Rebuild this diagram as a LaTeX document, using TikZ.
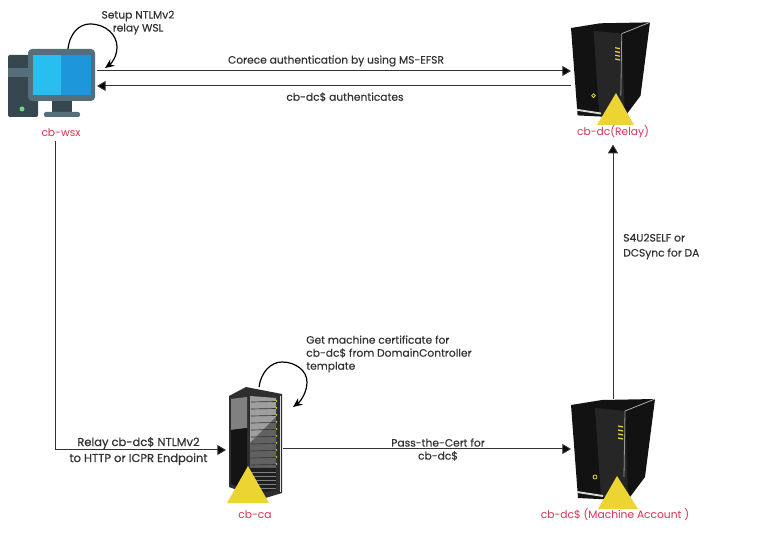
\documentclass[tikz,border=0pt]{standalone}
\usepackage{xcolor}
\usepackage{fontspec}
\setmainfont{Poppins}
\usetikzlibrary{arrows.meta}
\definecolor{inkgray}{RGB}{50,50,50}
\definecolor{hostred}{RGB}{214,50,80}
\definecolor{warnyellow}{RGB}{236,212,50}
\tikzset{
  flow/.style={draw=inkgray,line width=0.75pt,-{Triangle[length=6.5pt,width=7.5pt,fill=black]}},
  selfloop/.style={draw=black,line width=0.9pt,-{Stealth[length=7pt,width=6pt]}},
  iconbox/.style={inner sep=0pt,outer sep=0pt},
  note/.style={text=inkgray,font=\fontsize{8}{9.75}\selectfont\addfontfeatures{FakeBold=0.4},inner sep=0.75pt},
  hostname/.style={text=hostred,font=\fontsize{8}{9}\selectfont,inner sep=3pt},
  pics/dctower/.style={code={
    \fill[black!93] (0,0) -- (31,-5) -- (84,-6) -- (74,72) -- (59,92) -- (48,95) -- (7,93) -- cycle;
    \fill[black!85] (24,3) -- (54,6) -- (57,90) -- (30,92) -- cycle;
    \draw[white!75!black,line width=0.5pt] (54,6) -- (84,-6);
    \draw[white!60!black,line width=0.6pt] (54,6) -- (53,72);
    \draw[white!85!black,line width=1.4pt] (6,87) -- (32,91);
    \draw[warnyellow,line width=0.9pt] (47,21) -- (52,22) (47,25) -- (52,26) (47,29) -- (52,30) (47,33) -- (52,34);
    \draw[warnyellow,line width=0.6pt] (24,72) circle (2);
  }}
}
\begin{document}
\begin{tikzpicture}[x=0.75pt,y=0.75pt,yscale=-1,xscale=1]
  \useasboundingbox (0,0) rectangle (757,541);

  % workstation
  \fill[rounded corners=1.5pt,fill={rgb,255:red,55;green,71;blue,79}] (8,55) rectangle (38,117);
  \fill[fill={rgb,255:red,84;green,110;blue,122}] (8,68) rectangle (28,77);
  \fill[fill={rgb,255:red,105;green,219;blue,124}] (22,109) circle (2.5);
  \fill[fill={rgb,255:red,55;green,71;blue,79}] (52,100) rectangle (72,113);
  \fill[rounded corners=1.5pt,fill={rgb,255:red,84;green,110;blue,122}] (44,112) rectangle (80,117);
  \fill[rounded corners=3pt,fill={rgb,255:red,84;green,110;blue,122}] (28,49) rectangle (95,101);
  \fill[fill={rgb,255:red,41;green,190;blue,240}] (33,55) rectangle (61,95);
  \fill[fill={rgb,255:red,30;green,150;blue,220}] (61,55) rectangle (91,95);
  \node[iconbox,minimum width=66.75pt,minimum height=51pt] (wsx) at (52.5,83) {};

  % relay domain controller
  \pic[transform shape,scale=0.94] at (571,28) {dctower};
  \fill[warnyellow] (616,93) -- (634,125) -- (597,125) -- cycle;
  \node[iconbox,minimum width=59.25pt,minimum height=76.5pt] (dcrelay) at (610.5,74) {};

  % machine account domain controller
  \pic[transform shape] at (571,405) {dctower};
  \fill[warnyellow] (617,476) -- (638,509) -- (598,509) -- cycle;
  \node[iconbox,minimum width=63pt,minimum height=82.5pt] (dcmachine) at (613,454) {};

  % certificate authority rack
  \fill[black!82] (229,396) -- (246,387) -- (282,394) -- (282,493) -- (262,499) -- (229,487) -- cycle;
  \fill[black!50] (231,399) -- (247,397) -- (247,428) -- (231,430) -- cycle;
  \fill[black!92] (231,430) -- (247,428) -- (247,490) -- (231,484) -- cycle;
  \fill[black!38] (250,396) -- (276,398) -- (276,417) -- (250,443) -- cycle;
  \fill[black!62] (250,443) -- (276,417) -- (276,468) -- (250,468) -- cycle;
  \fill[black!88] (250,468) -- (276,468) -- (276,490) -- (250,494) -- cycle;
  \foreach \shelfy in {402,409,...,465}
    \draw[black!80,line width=0.5pt] (251,\shelfy) -- (276,\shelfy-0.5);
  \foreach \shelfy in {472,476,...,488}
    \draw[black!50,line width=0.5pt] (251,\shelfy) -- (276,\shelfy);
  \foreach \ledy in {401,408,...,464}
    \fill[warnyellow] (276.5,\ledy) circle (0.9);
  \draw[black!12,line width=0.6pt] (280,396) -- (280,492);
  \fill[warnyellow] (248,466) -- (269,503) -- (227,503) -- cycle;
  \node[iconbox,minimum width=42.75pt,minimum height=87pt] (rack) at (254.5,445) {};

  % host names
  \node[hostname] (wsxlabel) at (61,133) {cb-wsx};
  \node[hostname] (relaylabel) at (613,132) {cb-dc(Relay)};
  \node[hostname] (calabel) at (255,515) {cb-ca};
  \node[hostname] (machinelabel) at (615,515) {cb-dc\$ (Machine Account )};

  % connectors
  \draw[flow] ([yshift=-9pt]wsx.east) -- ([yshift=-9pt]wsx.east -| dcrelay.west);
  \draw[flow] ([yshift=2.25pt]wsx.east -| dcrelay.west) -- ([yshift=2.25pt]wsx.east);
  \draw[flow] ([xshift=-4.5pt]wsxlabel.south) |- ([yshift=3.75pt]rack.west);
  \draw[flow] ([yshift=3pt]rack.east) -- ([yshift=3pt]rack.east -| dcmachine.west);
  \draw[flow,shorten >=1.5pt] (dcmachine.north) -- (relaylabel.south);

  % self loops
  \coordinate (wsxloop) at (105,68);
  \coordinate (rackloop) at (293,407);
  \draw[selfloop] ([xshift=11.6pt]wsx.north) .. controls (70,32) and (80,24) .. (90,24) .. controls (106,24) and (117,35) .. (117,47) .. controls (117,56) and (112,63) .. (wsxloop);
  \draw[selfloop] ([xshift=3.4pt]rack.north) .. controls (261,372) and (271,362) .. (282,362) .. controls (296,362) and (307,371) .. (307,382) .. controls (307,392) and (301,401) .. (rackloop);

  % notes
  \node[note,align=center] (setupnote) at (138,22.5) {Setup NTLMv2\\relay WSL};
  \node[note] (coercenote) at (336,61) {Corece authentication by using MS-EFSR};
  \node[note] (authnote) at (345,97) {cb-dc\$ authenticates};
  \node[note,align=left,anchor=west] (dcsyncnote) at (622,246.5) {S4U2SELF or\\[1.5pt]DCSync for DA};
  \node[note,align=left,anchor=west] (certnote) at (305,354) {Get machine certificate for\\cb-dc\$ from DomainController\\template};
  \node[note,align=center,font=\fontsize{8.6}{9.75}\selectfont\addfontfeatures{FakeBold=0.6}] (relaynote) at (138.5,451) {Relay cb-dc\$ NTLMv2\\[2.25pt]to HTTP or ICPR Endpoint};
  \node[note,align=center] (passnote) at (438,449.5) {Pass-the-Cert for\\cb-dc\$};
\end{tikzpicture}
\end{document}
